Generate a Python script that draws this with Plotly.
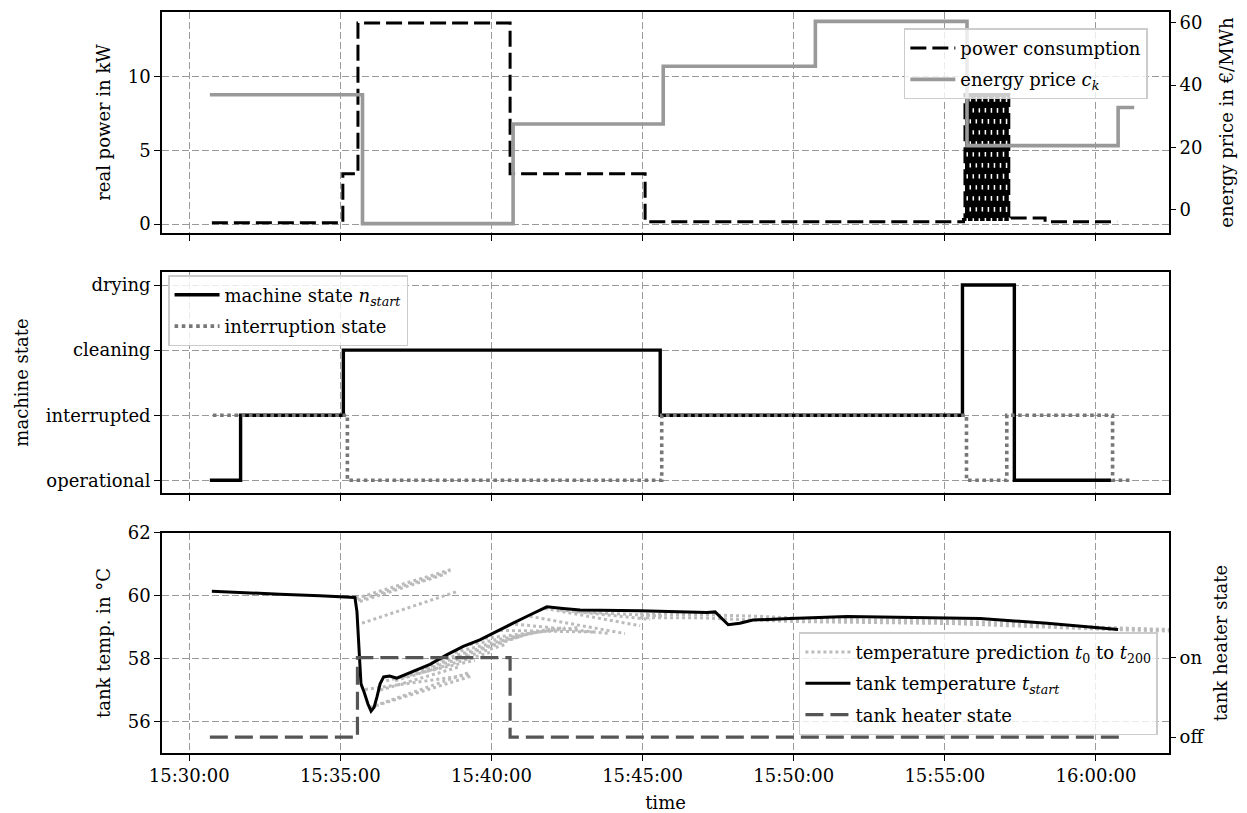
import plotly.graph_objects as go
import pandas as pd

DAY = "2024-01-01 "

# ---------------- data ----------------
# top panel: power consumption (kW), step series
power_times = ["15:30:45", "15:35:05", "15:35:35", "15:40:37", "15:45:05", "15:55:37"]
power_values = [0.09, 3.42, 13.68, 3.41, 0.16, 0.3]
# fast toggling during drying (3 s samples starting 15:55:37)
osc_values = [0.3, 8.8, 0.3, 8.8, 0.3, 8.8, 0.3, 8.8, 0.3, 8.8, 0.3, 8.8,
              0.3, 8.8, 0.3, 8.8, 0.3, 8.8, 0.3, 8.8, 0.3, 8.8, 0.3, 8.8,
              0.3, 8.8, 0.3, 8.8, 0.3, 8.8, 0.3]
power_tail_times = ["15:57:11", "15:58:19", "16:00:42"]
power_tail_values = [0.4, 0.15, 0.15]

# energy price (EUR/MWh)
price_times = ["15:30:41", "15:35:44", "15:40:43", "15:45:41", "15:50:43", "15:55:44", "16:00:44", "16:01:16"]
price_values = [36.9, -4.4, 27.5, 46.0, 60.4, 20.6, 32.8, 32.8]

# middle panel: machine state / interruption state
state_labels = ["operational", "interrupted", "cleaning", "drying"]
machine_times = ["15:30:41", "15:31:42", "15:35:06", "15:45:35", "15:55:35", "15:57:18", "16:00:30"]
machine_values = [0, 1, 2, 1, 3, 0, 0]
interrupt_times = ["15:30:47", "15:35:14", "15:45:38", "15:55:43", "15:57:03", "16:00:33", "16:01:08"]
interrupt_values = [1, 0, 1, 0, 1, 0, 0]

# bottom panel: tank temperature
temp_times = ["15:30:45", "15:31:41", "15:33:00", "15:34:19", "15:35:29", "15:35:33", "15:35:37",
              "15:35:41", "15:35:47", "15:35:55", "15:36:01", "15:36:07", "15:36:13", "15:36:19",
              "15:36:26", "15:36:38", "15:36:52", "15:37:24", "15:37:58", "15:38:32", "15:39:04",
              "15:39:37", "15:40:11", "15:40:43", "15:41:16", "15:41:50", "15:42:22", "15:42:56",
              "15:44:55", "15:47:08", "15:47:24", "15:47:50", "15:48:13", "15:48:39", "15:49:53",
              "15:51:46", "15:56:10", "15:58:23", "16:00:44"]
temp_values = [60.15, 60.10, 60.05, 60.0, 59.95, 59.5, 58.2,
               57.2, 56.95, 56.55, 56.33, 56.45, 56.8, 57.2,
               57.42, 57.45, 57.38, 57.6, 57.82, 58.13, 58.39,
               58.6, 58.86, 59.13, 59.39, 59.65, 59.6, 59.55,
               59.53, 59.47, 59.49, 59.08, 59.13, 59.23, 59.28,
               59.34, 59.28, 59.13, 58.93]

# temperature predictions (start/end of each predicted trajectory)
pred_t0 = ["15:35:31", "15:35:35", "15:35:39", "15:35:43", "15:35:49", "15:35:59", "15:36:08",
           "15:36:19", "15:36:31", "15:36:49", "15:37:18", "15:37:48", "15:38:18", "15:38:47",
           "15:39:17", "15:39:47", "15:40:17", "15:40:47", "15:41:16", "15:41:46", "15:42:16",
           "15:42:46"]
pred_t1 = ["15:38:44", "15:38:38", "15:38:30", "15:38:54", "15:39:17", "15:39:21", "15:39:13",
           "15:38:58", "15:39:27", "15:39:57", "15:40:27", "15:40:56", "15:41:26", "15:41:56",
           "15:42:26", "15:42:56", "15:43:26", "15:43:55", "15:44:25", "15:44:55", "15:45:15",
           "15:45:45"]
pred_T0 = [59.92, 59.86, 59.82, 59.13, 57.02, 56.45, 56.5, 57.0, 57.3, 57.3, 57.5, 57.7,
           57.95, 58.2, 58.45, 58.65, 58.9, 59.1, 59.35, 59.6, 59.55, 59.5]
pred_T1 = [60.86, 60.78, 60.70, 60.15, 57.49, 57.45, 57.55, 57.75, 57.95, 58.2, 58.45, 58.7,
           58.85, 58.95, 59.0, 59.0, 58.85, 58.8, 58.8, 59.05, 59.25, 59.35]
# later predictions hugging the measured curve
band_times = ["15:44:55", "15:46:54", "15:48:53", "15:50:12", "15:51:52", "15:53:31",
              "15:55:10", "15:56:49", "15:58:28", "16:00:07", "16:02:25"]
band_upper = [59.42, 59.40, 59.35, 59.28, 59.24, 59.22, 59.2, 59.14, 59.07, 59.0, 58.93]
band_lower = [59.3, 59.3, 59.22, 59.18, 59.16, 59.14, 59.12, 59.06, 59.0, 58.94, 58.88]

# tank heater state (0 = off, 1 = on)
heater_times = ["15:30:41", "15:35:34", "15:40:37", "16:00:46"]
heater_values = [0, 1, 0, 0]

# axis ticks
tick_times = ["15:30:00", "15:35:00", "15:40:00", "15:45:00", "15:50:00", "15:55:00", "16:00:00"]
tick_text = ["15:30:00", "15:35:00", "15:40:00", "15:45:00", "15:50:00", "15:55:00", "16:00:00"]
x_range = ["15:29:06", "16:02:25"]


def ts(lst):
    return [pd.Timestamp(DAY + s) for s in lst]


# ---------------- figure ----------------
FONT = "DejaVu Serif"
FS = 18
fig = go.Figure()

osc_times = list(pd.date_range(pd.Timestamp(DAY + power_times[-1]), periods=len(osc_values), freq="3s"))
p_x = ts(power_times[:-1]) + osc_times + ts(power_tail_times)
p_y = power_values[:-1] + osc_values + power_tail_values
fig.add_trace(go.Scatter(x=p_x, y=p_y, mode="lines", line_shape="hv",
                         line=dict(color="black", width=3.0, dash="16px,6px"),
                         name="power consumption", legend="legend", legendgroup="p",
                         xaxis="x", yaxis="y"))
fig.add_trace(go.Scatter(x=ts(price_times), y=price_values, mode="lines", line_shape="hv",
                         line=dict(color="#999999", width=3.6),
                         name="energy price <i>c<sub>k</sub></i>", legend="legend", legendgroup="c",
                         xaxis="x", yaxis="y2"))

fig.add_trace(go.Scatter(x=ts(machine_times), y=machine_values, mode="lines", line_shape="hv",
                         line=dict(color="black", width=3.4),
                         name="machine state <i>n<sub>start</sub></i>", legend="legend2", legendgroup="m",
                         xaxis="x2", yaxis="y3"))
fig.add_trace(go.Scatter(x=ts(interrupt_times), y=interrupt_values, mode="lines", line_shape="hv",
                         line=dict(color="#777777", width=3.6, dash="dot"),
                         name="interruption state", legend="legend2", legendgroup="i",
                         xaxis="x2", yaxis="y3"))

PRED_COLOR = "#bbbbbb"
for k in range(len(pred_t0)):
    fig.add_trace(go.Scatter(x=ts([pred_t0[k], pred_t1[k]]), y=[pred_T0[k], pred_T1[k]],
                             mode="lines", line=dict(color=PRED_COLOR, width=3, dash="dot"),
                             name="temperature prediction <i>t</i><sub>0</sub> to <i>t</i><sub>200</sub>",
                             legend="legend3", legendgroup="pred", showlegend=(k == 0),
                             xaxis="x3", yaxis="y4"))
for band in (band_upper, band_lower):
    fig.add_trace(go.Scatter(x=ts(band_times), y=band, mode="lines",
                             line=dict(color=PRED_COLOR, width=3, dash="dot"),
                             legend="legend3", legendgroup="pred", showlegend=False,
                             xaxis="x3", yaxis="y4"))
fig.add_trace(go.Scatter(x=ts(temp_times), y=temp_values, mode="lines",
                         line=dict(color="black", width=3),
                         name="tank temperature <i>t<sub>start</sub></i>", legend="legend3", legendgroup="t",
                         xaxis="x3", yaxis="y4"))
fig.add_trace(go.Scatter(x=ts(heater_times), y=heater_values, mode="lines", line_shape="hv",
                         line=dict(color="#555555", width=3.2, dash="18px,7px"),
                         name="tank heater state", legend="legend3", legendgroup="h",
                         xaxis="x3", yaxis="y5"))

GRID = dict(showgrid=True, gridcolor="#9a9a9a", gridwidth=1.2, griddash="7px,3px")
AX = dict(showline=True, linecolor="black", linewidth=1.6, mirror=True, ticks="outside",
          ticklen=6, tickwidth=1.3, tickcolor="black", zeroline=False, automargin=False,
          tickfont=dict(family=FONT, size=FS, color="black"))
RAX = dict(showgrid=False, zeroline=False, showline=False, automargin=False,
           ticks="outside", ticklen=6, tickwidth=1.3, tickcolor="black",
           tickfont=dict(family=FONT, size=FS, color="black"))

xr = ts(x_range)
xcommon = dict(type="date", range=xr, tickvals=ts(tick_times), ticktext=tick_text, **GRID, **AX)

top_dom = [0.7018, 1.0]
mid_dom = [0.3509, 0.6491]
bot_dom = [0.0, 0.2969]

title_font = dict(family=FONT, size=FS, color="black")
LEG = dict(bgcolor="rgba(255,255,255,0.8)", bordercolor="#cccccc", borderwidth=1.5,
           font=dict(family=FONT, size=FS, color="black"), traceorder="grouped",
           tracegroupgap=5, itemwidth=45)

fig.update_layout(
    width=1247, height=813,
    margin=dict(l=162, r=78, t=12, b=60, autoexpand=False),
    paper_bgcolor="white", plot_bgcolor="white",
    font=dict(family=FONT, size=FS, color="black"),
    xaxis=dict(domain=[0, 1], anchor="y", showticklabels=False, **xcommon),
    xaxis2=dict(domain=[0, 1], anchor="y3", showticklabels=False, **xcommon),
    xaxis3=dict(domain=[0, 1], anchor="y4", showticklabels=True,
                title=dict(text="time", font=title_font, standoff=12), **xcommon),
    yaxis=dict(domain=top_dom, anchor="x", range=[-0.61, 14.42], tickvals=[0, 5, 10],
               title=dict(text="real power in kW", font=title_font, standoff=12), **GRID, **AX),
    yaxis2=dict(overlaying="y", anchor="x", side="right", range=[-7.4, 63.4],
                tickvals=[0, 20, 40, 60],
                title=dict(text="energy price in €/MWh", font=title_font, standoff=18), **RAX),
    yaxis3=dict(domain=mid_dom, anchor="x2", range=[-0.195, 3.2], tickvals=[0, 1, 2, 3],
                ticktext=state_labels,
                title=dict(text="machine state", font=title_font, standoff=12), **GRID, **AX),
    yaxis4=dict(domain=bot_dom, anchor="x3", range=[55.0, 62.0], tickvals=[56, 58, 60, 62],
                title=dict(text="tank temp. in °C", font=title_font, standoff=12), **GRID, **AX),
    yaxis5=dict(overlaying="y4", anchor="x3", side="right", range=[-0.2, 2.567],
                tickvals=[0, 1], ticktext=["off", "on"],
                title=dict(text="tank heater state", font=title_font, standoff=10), **RAX),
    legend=dict(x=0.979, y=0.978, xanchor="right", yanchor="top", **LEG),
    legend2=dict(x=0.006, y=0.645, xanchor="left", yanchor="top", **LEG),
    legend3=dict(x=0.989, y=0.163, xanchor="right", yanchor="top", **LEG),
)

fig.write_html("out.html", post_script="document.body.style.margin='0px';",
               config={"displayModeBar": False})
